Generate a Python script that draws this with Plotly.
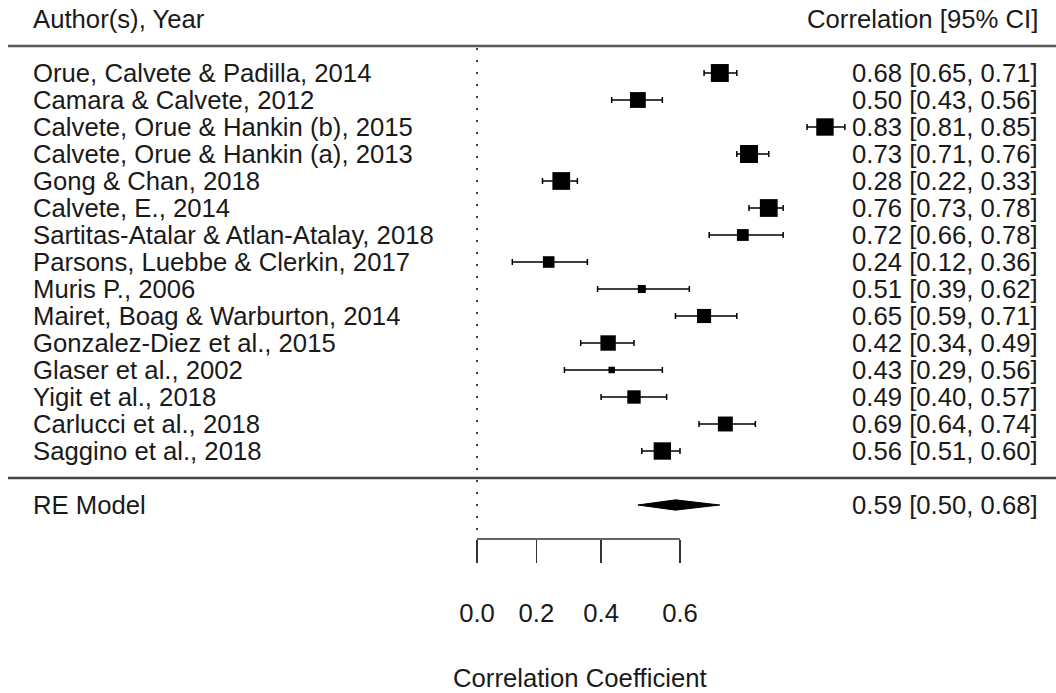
import numpy as np
import plotly.graph_objects as go

# ---------------- data ----------------
studies = [
    "Orue, Calvete & Padilla, 2014",
    "Camara & Calvete, 2012",
    "Calvete, Orue & Hankin (b), 2015",
    "Calvete, Orue & Hankin (a), 2013",
    "Gong & Chan, 2018",
    "Calvete, E., 2014",
    "Sartitas-Atalar & Atlan-Atalay, 2018",
    "Parsons, Luebbe & Clerkin, 2017",
    "Muris P., 2006",
    "Mairet, Boag & Warburton, 2014",
    "Gonzalez-Diez et al., 2015",
    "Glaser et al., 2002",
    "Yigit et al., 2018",
    "Carlucci et al., 2018",
    "Saggino et al., 2018",
]
corr = [0.68, 0.50, 0.83, 0.73, 0.28, 0.76, 0.72, 0.24, 0.51, 0.65, 0.42, 0.43, 0.49, 0.69, 0.56]
ci_low = [0.65, 0.43, 0.81, 0.71, 0.22, 0.73, 0.66, 0.12, 0.39, 0.59, 0.34, 0.29, 0.40, 0.64, 0.51]
ci_high = [0.71, 0.56, 0.85, 0.76, 0.33, 0.78, 0.78, 0.36, 0.62, 0.71, 0.49, 0.56, 0.57, 0.74, 0.60]

re_label = "RE Model"
re_est, re_low, re_high = 0.59, 0.50, 0.68

tick_values = [0.0, 0.2, 0.4, 0.6]
tick_labels = ["0.0", "0.2", "0.4", "0.6"]

header_left = "Author(s), Year"
header_right = "Correlation [95% CI]"
x_title = "Correlation Coefficient"

# ---------------- derived (Fisher z scale) ----------------
z = np.arctanh(np.array(corr))
zl = np.arctanh(np.array(ci_low))
zu = np.arctanh(np.array(ci_high))
k = len(studies)
rows = np.arange(k, 0, -1)  # first study on top

vi = ((zu - zl) / 3.92) ** 2
w = 1 / vi
zbar = np.sum(w * z) / np.sum(w)
Q = np.sum(w * (z - zbar) ** 2)
C = np.sum(w) - np.sum(w ** 2) / np.sum(w)
tau2 = max(0.0, (Q - (k - 1)) / C)
wr = 1 / (vi + tau2)
sizes = 6.5 + (wr - wr.min()) / (wr.max() - wr.min()) * 11.5

FONT = "Liberation Sans, Arial, sans-serif"
FS = 25.7
TXT = "#1a1a1a"

W, H = 1056, 693
px0 = 477.0          # pixel of z = 0
px_per = (680.0 - 477.0) / np.arctanh(0.6)
xrange = [-px0 / px_per, (W - px0) / px_per]
bottom_px = 539
yr_top = (478 - 0) / 27.0
yr_bot = (478 - bottom_px) / 27.0

fig = go.Figure()

# CIs and squares
fig.add_trace(go.Scatter(
    x=z, y=rows, mode="markers",
    marker=dict(symbol="square", size=sizes, color="black", opacity=1,
                line=dict(width=0)),
    error_x=dict(type="data", symmetric=False, array=zu - z, arrayminus=z - zl,
                 color="black", thickness=1.5, width=3),
    showlegend=False, hoverinfo="skip",
))

# RE diamond
ze, zel, zeu = np.arctanh(re_est), np.arctanh(re_low), np.arctanh(re_high)
h = 0.19
fig.add_trace(go.Scatter(
    x=[zel, ze, zeu, ze, zel], y=[-1, -1 + h, -1, -1 - h, -1],
    mode="lines", fill="toself", fillcolor="black",
    line=dict(color="black", width=1), showlegend=False, hoverinfo="skip",
))


def txt(x, y, text, anchor, yref="y"):
    return dict(x=x / W, xref="paper", y=y, yref=yref, text=text,
                xanchor=anchor, yanchor="middle", showarrow=False,
                font=dict(family=FONT, size=FS, color=TXT))


annotations = []
for i, (s, r_, l_, u_) in enumerate(zip(studies, corr, ci_low, ci_high)):
    annotations.append(txt(31, rows[i], s, "left"))
    annotations.append(txt(1040, rows[i], f"{r_:.2f} [{l_:.2f}, {u_:.2f}]", "right"))
annotations.append(txt(31, -1, re_label, "left"))
annotations.append(txt(1040, -1, f"{re_est:.2f} [{re_low:.2f}, {re_high:.2f}]", "right"))
annotations.append(txt(31, k + 2, header_left, "left"))
annotations.append(txt(1040, k + 2, header_right, "right"))
annotations.append(txt(580, -(678 - bottom_px) / bottom_px, x_title, "center", yref="paper"))

tz = np.arctanh(np.array(tick_values))
shapes = [
    dict(type="line", xref="paper", yref="y", x0=8 / W, x1=1, y0=k + 1, y1=k + 1,
         line=dict(color="#5a5a5a", width=2.5)),
    dict(type="line", xref="paper", yref="y", x0=8 / W, x1=1, y0=0, y1=0,
         line=dict(color="#444444", width=2.5)),
    dict(type="line", xref="x", yref="y", x0=0, x1=0, y0=-1.93, y1=k + 1,
         line=dict(color="black", width=1.5, dash="2px,10px")),
    dict(type="line", xref="x", yref="paper", x0=tz[0], x1=tz[-1], y0=0, y1=0,
         line=dict(color="#333333", width=1.5)),
]

fig.update_layout(
    width=W, height=H,
    margin=dict(l=0, r=0, t=0, b=H - bottom_px),
    paper_bgcolor="white", plot_bgcolor="white",
    annotations=annotations, shapes=shapes,
    xaxis=dict(range=xrange, showgrid=False, zeroline=False, showline=False,
               tickmode="array", tickvals=tz, ticktext=tick_labels,
               ticks="outside", ticklen=23, tickwidth=1.5, tickcolor="#333333",
               ticklabelstandoff=28,
               tickfont=dict(family=FONT, size=FS, color=TXT)),
    yaxis=dict(range=[yr_bot, yr_top], showgrid=False, zeroline=False,
               showline=False, showticklabels=False, ticks=""),
)

fig.write_html("out.html",
               config={"displayModeBar": False, "staticPlot": True},
               post_script="document.body.style.margin='0px';document.body.style.overflow='hidden';")
